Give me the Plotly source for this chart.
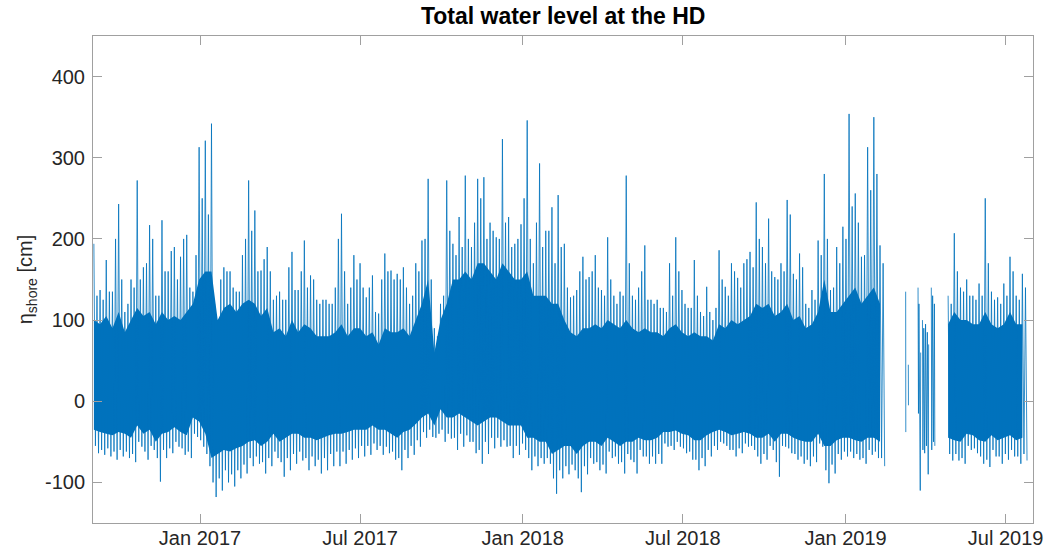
import pandas as pd
import plotly.graph_objects as go

# ---------------- data ----------------
# segment 1: weekly samples from 2016-09-03 to 2019-02-08
seg1_start = "2016-09-03"
# weekly highest peak
seg1_hi = [194, 137, 174, 135, 243, 110, 150, 272, 165, 217, 130, 223, 160, 190, 178, 205, 135, 313, 321, 342,
           100, 165, 160, 135, 180, 272, 235, 161, 190,
           125, 135, 125, 184, 137, 198, 155, 125, 125, 120, 140, 231, 120, 180, 170, 128, 155, 108, 182, 161,
           157, 165, 120, 170, 198, 274, 90, 120,
           272, 194, 227, 278, 190, 274, 276, 220, 202, 323, 227, 194, 218, 346, 170, 293, 210, 239, 254, 194,
           128, 137, 178, 153, 180, 137, 202,
           130, 135, 278, 130, 140, 192, 125, 125, 115, 170, 202, 137, 115, 174, 110, 141, 100, 186, 141, 170,
           152, 170, 184, 245, 190, 225, 153, 170,
           248, 157, 182, 120, 137, 198, 280, 137, 190, 215, 354, 256, 178, 313, 350, 192]
# weekly secondary peak (mid-week)
seg1_hi2 = [130, 125, 135, 200, 150, 120, 140, 150, 170, 200, 130, 160, 185, 150, 200, 140, 180, 250, 230, 120,
            150, 160, 140, 135, 200, 210, 160, 175, 160,
            130, 125, 165, 137, 160, 140, 150, 120, 125, 120, 200, 160, 140, 150, 140, 140, 110, 150, 160, 150,
            150, 140, 130, 160, 200, 150, 80, 130,
            210, 180, 190, 200, 220, 250, 200, 210, 200, 220, 190, 200, 250, 200, 220, 190, 210, 170, 190, 140,
            130, 160, 150, 160, 140, 130, 150,
            120, 130, 170, 125, 160, 125, 120, 115, 110, 130, 160, 120, 115, 130, 105, 110, 115, 150, 130, 160,
            140, 175, 165, 200, 170, 160, 150, 160,
            230, 150, 165, 115, 125, 180, 200, 140, 170, 200, 240, 220, 180, 260, 280, 170]
# weekly lowest trough
seg1_lo = [-64, -66, -68, -72, -68, -70, -75, -56, -72, -60, -99, -70, -64, -56, -66, -70, -44, -56, -80, -118,
           -110, -100, -105, -95, -89, -80, -77, -89, -80,
           -70, -93, -85, -77, -73, -85, -80, -89, -85, -80, -80, -77, -72, -70, -68, -66, -60, -66, -64, -72,
           -85, -70, -66, -56, -45, -44, -40, -50,
           -46, -60, -56, -50, -64, -77, -65, -58, -56, -56, -70, -66, -60, -85, -80, -77, -77, -114, -95, -90,
           -85, -112, -90, -77, -85, -89, -70,
           -77, -89, -72, -89, -68, -77, -77, -77, -56, -60, -56, -64, -72, -85, -80, -68, -60, -52, -60, -68,
           -64, -56, -60, -77, -72, -60, -93, -56,
           -64, -72, -77, -80, -75, -56, -101, -89, -72, -68, -70, -72, -77, -66, -70, -80]
# weekly secondary trough
seg1_lo2 = [-55, -60, -58, -62, -60, -62, -65, -50, -62, -55, -70, -60, -58, -50, -58, -62, -40, -48, -65, -100,
            -95, -85, -90, -85, -78, -70, -68, -75, -70,
            -62, -75, -70, -65, -62, -70, -68, -72, -70, -65, -62, -62, -60, -58, -55, -55, -52, -55, -56, -62,
            -70, -60, -55, -48, -38, -35, -45, -35,
            -40, -45, -40, -42, -50, -60, -50, -45, -45, -48, -55, -55, -52, -70, -68, -70, -70, -95, -85, -80,
            -78, -95, -80, -70, -75, -78, -62,
            -68, -75, -65, -75, -60, -68, -68, -65, -52, -55, -50, -58, -62, -72, -70, -60, -55, -50, -55, -60,
            -58, -52, -55, -68, -65, -55, -75, -55,
            -58, -65, -68, -72, -68, -52, -85, -78, -65, -62, -62, -65, -70, -60, -62, -70]
# solid core of the band
seg1_core_hi = [100, 95, 105, 90, 110, 85, 100, 115, 105, 110, 95, 110, 100, 105, 100, 110, 120, 150, 160, 160,
                100, 115, 120, 110, 120, 125, 120, 105, 115,
                85, 90, 80, 100, 85, 95, 90, 80, 80, 80, 85, 95, 80, 90, 90, 80, 85, 70, 90, 85,
                85, 90, 80, 100, 120, 150, 60, 100,
                120, 150, 150, 160, 150, 170, 170, 160, 150, 170, 160, 150, 150, 160, 130, 130, 130, 120, 120, 100,
                85, 80, 90, 90, 95, 90, 100,
                95, 90, 100, 90, 85, 90, 85, 85, 80, 90, 95, 85, 80, 85, 80, 80, 75, 95, 90, 100,
                95, 100, 105, 120, 115, 120, 105, 110,
                120, 100, 105, 90, 95, 110, 150, 110, 110, 120, 130, 140, 120, 130, 140, 120]
seg1_core_lo = [-35, -38, -40, -42, -38, -40, -45, -30, -40, -35, -50, -40, -38, -32, -38, -42, -20, -25, -40, -70,
                -65, -60, -62, -58, -55, -50, -48, -55, -50,
                -40, -50, -45, -40, -40, -45, -45, -48, -45, -42, -40, -40, -38, -35, -35, -35, -30, -35, -35, -40,
                -45, -38, -35, -28, -20, -15, -30, -10,
                -20, -20, -15, -20, -25, -30, -25, -20, -20, -25, -30, -30, -30, -45, -45, -50, -50, -65, -60, -55,
                -55, -65, -55, -50, -50, -55, -45,
                -50, -55, -50, -50, -45, -48, -48, -45, -38, -38, -36, -40, -42, -48, -48, -42, -38, -35, -38, -42,
                -40, -38, -40, -45, -45, -40, -50, -40,
                -40, -45, -48, -50, -50, -40, -55, -55, -48, -45, -45, -48, -50, -45, -45, -50]

# sparse records, March-April 2019 (None = break)
sparse_time = ["2019-03-10 00:00", "2019-03-10 04:00", "2019-03-10 08:00",
               "2019-03-13 00:00", "2019-03-13 04:00", "2019-03-13 08:00",
               "2019-03-24 00:00", "2019-03-24 12:00", "2019-03-25 00:00", "2019-03-26 12:00",
               "2019-03-27 00:00", "2019-03-27 12:00",
               "2019-03-29 00:00", "2019-03-29 12:00", "2019-03-30 12:00", "2019-03-31 12:00",
               "2019-04-01 12:00", "2019-04-02 12:00", "2019-04-03 12:00", "2019-04-04 12:00",
               "2019-04-05 00:00", "2019-04-05 12:00",
               "2019-04-08 00:00", "2019-04-08 12:00", "2019-04-09 12:00", "2019-04-10 12:00",
               "2019-04-11 12:00", "2019-04-12 00:00", "2019-04-12 12:00"]
sparse_val = [135, -38, None,
              45, -5, None,
              140, -15, 120, -110, 60, None,
              100, -60, 90, -64, 95, -55, 85, -90, 70, None,
              140, -60, 130, -50, 120, -55, None]

# segment 3: weekly samples from 2019-04-27
seg3_start = "2019-04-27"
seg3_hi = [130, 207, 140, 150, 130, 145, 250, 135, 128, 145, 178, 130, 157]
seg3_hi2 = [120, 160, 135, 130, 125, 130, 170, 125, 120, 130, 160, 125, 140]
seg3_lo = [-73, -73, -77, -60, -64, -77, -81, -68, -77, -72, -68, -77, -73]
seg3_lo2 = [-65, -65, -70, -55, -58, -68, -72, -60, -68, -65, -60, -68, -65]
seg3_core_hi = [95, 110, 100, 100, 95, 95, 110, 95, 90, 95, 110, 95, 95]
seg3_core_lo = [-45, -48, -50, -40, -42, -48, -50, -42, -48, -45, -42, -48, -45]

x_ticks = ["2017-01-01", "2017-07-01", "2018-01-01", "2018-07-01", "2019-01-01", "2019-07-01"]
x_tick_text = ["Jan 2017", "Jul 2017", "Jan 2018", "Jul 2018", "Jan 2019", "Jul 2019"]
y_ticks = [-100, 0, 100, 200, 300, 400]
y_tick_text = ["-100", "0", "100", "200", "300", "400"]

# ---------------- figure ----------------
BLUE = "#0072BD"
fig = go.Figure()


def add_segment(start, hi, lo2, hi2, lo, chi, clo):
    t = pd.date_range(start, periods=len(hi), freq="7D")
    q = pd.Timedelta(hours=42)
    # solid core band
    fig.add_trace(go.Scatter(
        x=list(t) + list(t[::-1]), y=list(chi) + list(clo[::-1]),
        fill="toself", fillcolor=BLUE, mode="lines", line=dict(width=0, color=BLUE),
        hoverinfo="skip", showlegend=False))
    # extremes as a thin oscillating trace
    xs, ys = [], []
    for k in range(len(t)):
        xs += [t[k], t[k] + q, t[k] + 2 * q, t[k] + 3 * q]
        ys += [hi[k], lo2[k], hi2[k], lo[k]]
    fig.add_trace(go.Scatter(x=xs, y=ys, mode="lines", line=dict(width=0.8, color=BLUE),
                             showlegend=False))


add_segment(seg1_start, seg1_hi, seg1_lo2, seg1_hi2, seg1_lo, seg1_core_hi, seg1_core_lo)
fig.add_trace(go.Scatter(x=pd.to_datetime(sparse_time), y=sparse_val, mode="lines",
                         line=dict(width=0.8, color=BLUE), connectgaps=False, showlegend=False))
add_segment(seg3_start, seg3_hi, seg3_lo2, seg3_hi2, seg3_lo, seg3_core_hi, seg3_core_lo)

FONT = "Liberation Sans, Arial, Helvetica, sans-serif"
axis_common = dict(showline=True, linecolor="#a0a0a0", linewidth=1, mirror="ticks",
                   ticks="inside", ticklen=9, tickcolor="#a0a0a0", showgrid=False, zeroline=False,
                   automargin=False,
                   tickfont=dict(family=FONT, size=20, color="#262626"))

fig.update_layout(
    width=1047, height=557,
    margin=dict(l=93, r=14, t=36, b=34),
    paper_bgcolor="white", plot_bgcolor="white",
    title=dict(text="<b>Total water level at the HD</b>", x=0.5379, xanchor="center",
               y=0.972, yanchor="middle", yref="container",
               font=dict(family=FONT, size=23, color="black")),
    xaxis=dict(type="date", range=["2016-09-02", "2019-08-01"],
               tickvals=x_ticks, ticktext=x_tick_text, ticklabelstandoff=-3, **axis_common),
    yaxis=dict(range=[-150, 450], tickvals=y_ticks, ticktext=y_tick_text, ticklabelstandoff=3,
               title=dict(text="η<sub>shore</sub> [cm]", standoff=6,
                          font=dict(family=FONT, size=20, color="#262626")),
               **axis_common),
)

fig.write_html("out.html")
